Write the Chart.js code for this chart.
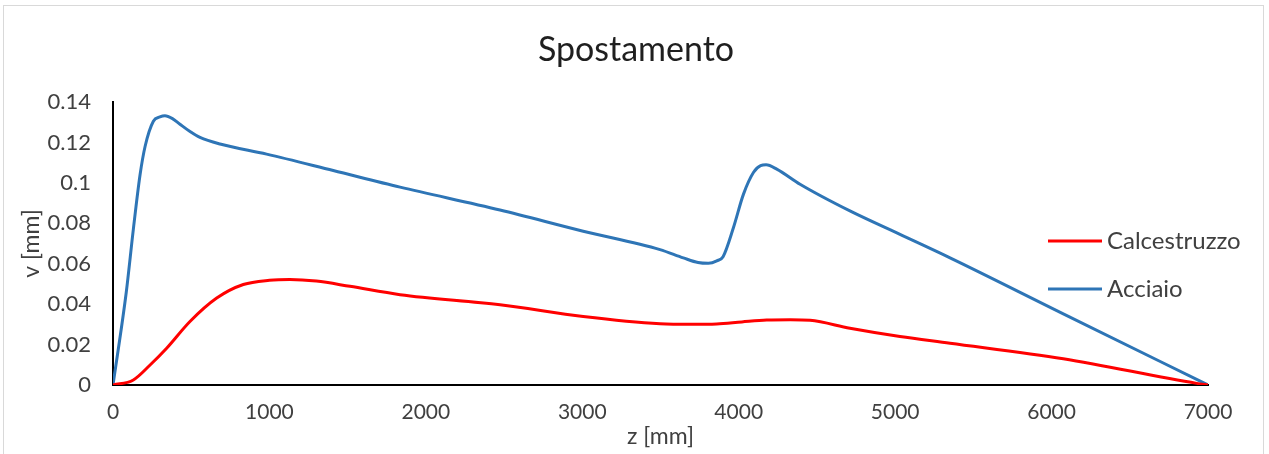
<!DOCTYPE html>
<html>
<head>
<meta charset="utf-8">
<title>Spostamento</title>
<script src="https://cdn.jsdelivr.net/npm/chart.js@4"></script>
<style>
    html, body { margin: 0; padding: 0; background: #ffffff; }
    #wrap { width: 1269px; height: 454px; }
</style>
</head>
<body>
<div id="wrap"><canvas id="spostamento-chart" width="1269" height="454"></canvas></div>
<script>
// values
const zAcciaio = [0, 85, 130, 173, 205, 258, 300, 332, 380, 428, 490, 556, 684, 982, 1408, 1835, 2474, 3006, 3497, 3646, 3740, 3806, 3860, 3900, 3966, 4030, 4094, 4140, 4175, 4243, 4392, 4711, 5031, 5351, 6075, 7000];
const vAcciaio = [0, 0.046, 0.077, 0.104, 0.118, 0.1305, 0.1326, 0.1332, 0.1318, 0.129, 0.1255, 0.1225, 0.1192, 0.1142, 0.1061, 0.0979, 0.0866, 0.0761, 0.0670, 0.0629, 0.0606, 0.0602, 0.0614, 0.0635, 0.0778, 0.0943, 0.1051, 0.1085, 0.1089, 0.1068, 0.0993, 0.0861, 0.0745, 0.0629, 0.0352, 0];

const zCalcestruzzo = [0, 130, 237, 343, 492, 663, 833, 1000, 1130, 1300, 1515, 1835, 2474, 3006, 3497, 3700, 3859, 4020, 4179, 4330, 4456, 4711, 5031, 5351, 6075, 6928, 7000];
const vCalcestruzzo = [0, 0.0025, 0.0099, 0.0182, 0.0314, 0.0430, 0.0497, 0.0518, 0.0522, 0.0514, 0.0488, 0.0447, 0.0397, 0.0339, 0.0303, 0.0300, 0.0302, 0.0312, 0.0321, 0.0323, 0.0320, 0.0281, 0.0240, 0.0207, 0.0130, 0.0008, 0];

const xTickLabels = ['0', '1000', '2000', '3000', '4000', '5000', '6000', '7000'];
const yTickLabels = ['0', '0.02', '0.04', '0.06', '0.08', '0.1', '0.12', '0.14'];

const chartTitle = 'Spostamento';
const seriesNames = ['Calcestruzzo', 'Acciaio'];
const seriesColors = ['#ff0000', '#2e75b6'];

const FONT = 'Lato, "Open Sans", sans-serif';
const TEXT_COLOR = '#404040';

function toPoints(xs, ys) {
    return xs.map((x, i) => ({x: x, y: ys[i]}));
}

// light grey frame around the whole picture + title centred on the full width
const framePlugin = {
    id: 'frame',
    beforeDraw(chart) {
        const ctx = chart.ctx;
        ctx.save();
        ctx.fillStyle = '#ffffff';
        ctx.fillRect(0, 0, chart.width, chart.height);
        ctx.strokeStyle = '#d9d9d9';
        ctx.lineWidth = 1;
        ctx.strokeRect(3.5, 5.5, 1260, 470);

        ctx.fillStyle = '#1f1f1f';
        ctx.font = '34px ' + FONT;
        ctx.textAlign = 'center';
        ctx.textBaseline = 'middle';
        ctx.fillText(chartTitle, 636, 50);
        ctx.restore();
    }
};

// legend sits on top of the plot area, right side
const sideLegendPlugin = {
    id: 'sideLegend',
    afterDraw(chart) {
        const ctx = chart.ctx;
        const rows = [241, 289];
        ctx.save();
        chart.data.datasets.forEach((ds, i) => {
            ctx.strokeStyle = ds.borderColor;
            ctx.lineWidth = 3;
            ctx.beginPath();
            ctx.moveTo(1048, rows[i]);
            ctx.lineTo(1102, rows[i]);
            ctx.stroke();
            ctx.fillStyle = TEXT_COLOR;
            ctx.font = '24px ' + FONT;
            ctx.textBaseline = 'middle';
            ctx.textAlign = 'left';
            ctx.fillText(ds.label, 1107, rows[i]);
        });
        ctx.restore();
    }
};

let config = {
    type: 'line',
    data: {
        datasets: [
            {
                label: seriesNames[0],
                data: toPoints(zCalcestruzzo, vCalcestruzzo),
                borderColor: seriesColors[0],
                backgroundColor: seriesColors[0],
                borderWidth: 3,
                pointRadius: 0,
                cubicInterpolationMode: 'monotone',
                fill: false
            },
            {
                label: seriesNames[1],
                data: toPoints(zAcciaio, vAcciaio),
                borderColor: seriesColors[1],
                backgroundColor: seriesColors[1],
                borderWidth: 3,
                pointRadius: 0,
                cubicInterpolationMode: 'monotone',
                fill: false
            }
        ]
    },
    options: {
        responsive: false,
        animation: false,
        layout: {
            padding: {top: 102, left: 0, right: 61, bottom: 0}
        },
        plugins: {
            legend: {display: false},
            tooltip: {enabled: false},
            title: {display: false}
        },
        scales: {
            x: {
                type: 'linear',
                min: 0,
                max: 7000,
                afterFit: (scale) => { scale.height = 69; },
                afterBuildTicks: (scale) => {
                    scale.ticks = xTickLabels.map(t => ({value: Number(t)}));
                },
                ticks: {
                    color: TEXT_COLOR,
                    font: {family: FONT, size: 21},
                    padding: 15,
                    maxRotation: 0,
                    callback: (value, index) => xTickLabels[index]
                },
                grid: {display: false, drawTicks: false},
                border: {display: true, color: '#000000', width: 2},
                title: {
                    display: true,
                    text: 'z [mm]',
                    color: TEXT_COLOR,
                    font: {family: FONT, size: 23},
                    padding: {top: 0, bottom: 4}
                }
            },
            y: {
                type: 'linear',
                min: 0,
                max: 0.14,
                afterFit: (scale) => { scale.width = 113; },
                afterBuildTicks: (scale) => {
                    scale.ticks = yTickLabels.map(t => ({value: Number(t)}));
                },
                ticks: {
                    color: TEXT_COLOR,
                    font: {family: FONT, size: 22},
                    padding: 22,
                    callback: (value, index) => yTickLabels[index]
                },
                grid: {display: false, drawTicks: false},
                border: {display: true, color: '#000000', width: 2},
                title: {
                    display: true,
                    text: 'v [mm]',
                    color: TEXT_COLOR,
                    font: {family: FONT, size: 23},
                    padding: {top: 18, bottom: 0}
                }
            }
        }
    },
    plugins: [framePlugin, sideLegendPlugin]
};

new Chart(document.getElementById('spostamento-chart'), config);
</script>
</body>
</html>
